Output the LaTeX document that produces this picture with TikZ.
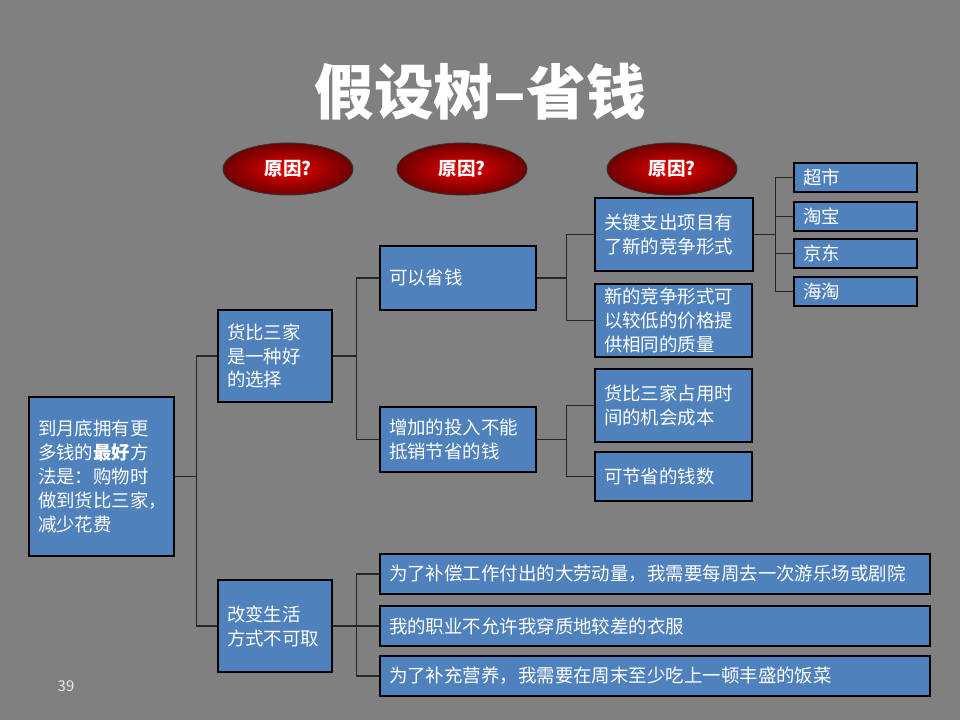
\documentclass[tikz,border=0pt]{standalone}
\usepackage{fontspec}
\setmainfont{Noto Sans CJK SC}
\usepackage{tikz}
\usetikzlibrary{shapes.geometric}

\definecolor{slidegray}{RGB}{128,128,128}
\definecolor{boxblue}{RGB}{79,129,189}
\definecolor{causered}{RGB}{235,0,0}
\definecolor{causedark}{RGB}{110,0,0}

\begin{document}
\begin{tikzpicture}[x=0.02cm, y=-0.02cm,
    box/.style={draw=black, line width=0.7pt, fill=boxblue, text=white, align=left,
      inner xsep=0.18cm, inner ysep=0pt, font=\fontsize{10.5}{13.6}\selectfont},
    cause/.style={ellipse, draw=black!80, line width=0.5pt, shading=radial,
      inner color=causered, outer color=causedark, minimum width=2.6cm,
      minimum height=1.04cm, text=white, font=\fontsize{10.5}{12}\selectfont\bfseries},
    link/.style={draw=black!85, line width=0.8pt}]
    \fill [slidegray] (0, 0) rectangle (960, 720);
    \useasboundingbox (0, 0) rectangle (960, 720);

    \node [text=white, font=\fontsize{34}{40}\selectfont\bfseries] (title) at (480, 92) {假设树–省钱};

    \node [cause] (cause1) at (288, 169) {原因?};
    \node [cause] (cause2) at (462, 169) {原因?};
    \node [cause] (cause3) at (672, 169) {原因?};

    \node [box, text width=2.54cm, minimum height=3.18cm] (root) at (101.5, 476.5)
      {到月底拥有更\\多钱的\textbf{最好}方\\法是：购物时\\做到货比三家，\\减少花费};

    \node [box, text width=1.92cm, minimum height=1.84cm] (choice) at (275, 356)
      {货比三家\\是一种好\\的选择};
    \node [box, text width=1.92cm, minimum height=1.84cm] (change) at (275, 626)
      {改变生活\\方式不可取};

    \node [box, text width=2.76cm, minimum height=1.28cm] (save) at (458, 278) {可以省钱};
    \node [box, text width=2.76cm, minimum height=1.3cm] (cost) at (458, 439.5)
      {增加的投入不能\\抵销节省的钱};

    \node [box, text width=2.8cm, minimum height=1.46cm] (key) at (674, 234.5)
      {关键支出项目有\\了新的竞争形式};
    \node [box, text width=2.78cm, minimum height=1.46cm] (form) at (673.5, 320.5)
      {新的竞争形式可\\以较低的价格提\\供相同的质量};
    \node [box, text width=2.78cm, minimum height=1.46cm] (time) at (673.5, 405.5)
      {货比三家占用时\\间的机会成本};
    \node [box, text width=2.78cm, minimum height=0.98cm] (amount) at (673.5, 476.5)
      {可节省的钱数};

    \node [box, text width=2.1cm, minimum height=0.58cm] (market) at (855.5, 177.5) {超市};
    \node [box, text width=2.1cm, minimum height=0.58cm] (taobao) at (855.5, 216.5) {淘宝};
    \node [box, text width=2.1cm, minimum height=0.58cm] (jd) at (855.5, 253.5) {京东};
    \node [box, text width=2.1cm, minimum height=0.58cm] (haitao) at (855.5, 291.5) {海淘};

    \node [box, text width=10.64cm, minimum height=0.8cm] (fun) at (655, 574)
      {为了补偿工作付出的大劳动量，我需要每周去一次游乐场或剧院};
    \node [box, text width=10.64cm, minimum height=0.8cm] (clothes) at (655, 626)
      {我的职业不允许我穿质地较差的衣服};
    \node [box, text width=10.64cm, minimum height=0.8cm] (meal) at (655, 676)
      {为了补充营养，我需要在周末至少吃上一顿丰盛的饭菜};

    \draw [link] (root.east) -- ++(22, 0) |- (choice.west);
    \draw [link] (root.east) -- ++(22, 0) |- (change.west);

    \draw [link] (choice.east) -- ++(24, 0) |- (save.west);
    \draw [link] (choice.east) -- ++(24, 0) |- (cost.west);

    \draw [link] (save.east) -- ++(30, 0) |- (key.west);
    \draw [link] (save.east) -- ++(30, 0) |- (form.west);
    \draw [link] (cost.east) -- ++(30, 0) |- (time.west);
    \draw [link] (cost.east) -- ++(30, 0) |- (amount.west);

    \draw [link] (key.east) -- ++(22, 0) |- (market.west);
    \draw [link] (key.east) -- ++(22, 0) |- (taobao.west);
    \draw [link] (key.east) -- ++(22, 0) |- (jd.west);
    \draw [link] (key.east) -- ++(22, 0) |- (haitao.west);

    \draw [link] (change.east) -- ++(24, 0) |- (fun.west);
    \draw [link] (change.east) -- ++(24, 0) |- (clothes.west);
    \draw [link] (change.east) -- ++(24, 0) |- (meal.west);

    \node [text=white!92!black, font=\fontsize{8.5}{10}\selectfont] (page) at (66, 686) {39};
  \end{tikzpicture}
\end{document}
